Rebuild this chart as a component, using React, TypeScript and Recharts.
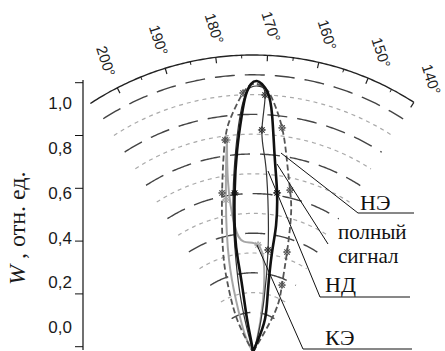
import React from "react";
import { ReferenceLine, Scatter, ScatterChart, XAxis, YAxis } from "recharts";

// polar frame: angle in degrees, W in relative units
const CENTER_DEG = 172.8; // angle that points straight up
const R_OUT = 1.1;
const RINGS = 15;
const ARC_FROM = 205.5;
const ARC_TO = 140;

const X_DOMAIN: [number, number] = [-0.62963, 0.71111];
const P_DOMAIN: [number, number] = [-0.02963, 1.3037];
const W_DOMAIN: [number, number] = [-0.05038, 1.31326];

const ANGLE_LABELS = [200, 190, 180, 170, 160, 150, 140];
const MINOR_TICKS = [195, 185, 175, 165, 155, 145];
const W_TICKS = [0, 0.2, 0.4, 0.6, 0.8, 1.0];

// полный сигнал
const FULL_DEG = [150, 150.2, 152.8, 159.2, 162.0, 162.5, 164.2, 166.3, 168.2, 169.5, 170.9, 172.0, 173.2, 174.4, 175.5, 177.3, 179.4, 181.5, 182.1, 182.1, 183.1, 182.3, 182.3];
const FULL_W = [0, 0.048, 0.13, 0.236, 0.377, 0.478, 0.596, 0.716, 0.881, 0.961, 0.993, 1.004, 0.993, 0.952, 0.879, 0.75, 0.593, 0.438, 0.345, 0.251, 0.124, 0.045, 0];
const FULL_MARKS = [6, 16];

// НЭ
const NE_DEG = [150, 144.0, 149.4, 154.0, 157.3, 159.9, 162.8, 165.4, 168.3, 170.2, 172.6, 175.0, 177.9, 180.3, 183.8, 189.2, 193.3, 198.7, 200];
const NE_W = [0, 0.169, 0.27, 0.391, 0.527, 0.615, 0.722, 0.837, 0.936, 0.979, 0.993, 0.96, 0.881, 0.792, 0.6, 0.394, 0.265, 0.136, 0];
const NE_MARKS = [2, 3, 5, 7, 11, 13, 14];

// НД
const ND_DEG = [160, 156.4, 160.9, 164.4, 167.2, 169.2, 170.5, 170.1, 171.7, 173.9, 175.9, 178.2, 180.8, 183.3, 185.8, 187.5, 187];
const ND_W = [0, 0.066, 0.197, 0.382, 0.566, 0.713, 0.823, 0.953, 0.985, 0.971, 0.879, 0.714, 0.531, 0.347, 0.198, 0.073, 0];
const ND_MARKS = [3, 6, 7];

// КЭ
const KE_DEG = [160, 154.4, 161.9, 165.6, 170.1, 177.5, 181.0, 181.1, 179.8, 182.9, 187.4, 190.9, 198.0, 195];
const KE_W = [0, 0.047, 0.196, 0.325, 0.397, 0.41, 0.47, 0.644, 0.791, 0.572, 0.352, 0.203, 0.07, 0];
const KE_MARKS = [4, 8, 9];

// leader lines (x, y in W units from the pole) and label anchors
const LEADERS = [
  [[0.1037, 0.737], [0.3889, 0.5148], [0.5963, 0.5148]],
  [[0.0889, 0.6963], [0.2778, 0.4]],
  [[0.0556, 0.6704], [0.2481, 0.2037], [0.5815, 0.2037]],
  [[0.0148, 0.3963], [0.1852, 0.0111], [0.5889, 0.0111]],
];
const NAMES = [["НЭ"], ["полный", "сигнал"], ["НД"], ["КЭ"]];
const NAME_POS = [[0.3963, 0.5259], [0.3148, 0.4185], [0.2667, 0.2222], [0.2667, 0.0259]];

const toXY = (deg: number, w: number) => {
  const a = ((CENTER_DEG - deg) * Math.PI) / 180;
  return { x: w * Math.sin(a), y: w * Math.cos(a) };
};

const SERIF = "'Liberation Serif', 'Times New Roman', serif";
const SANS = "'Liberation Sans', Arial, sans-serif";

function Star({ cx, cy, color }: { cx: number; cy: number; color: string }) {
  const s = 4;
  const d = s * 0.7;
  return (
    <g stroke={color} strokeWidth={1} fill="none">
      <circle cx={cx} cy={cy} r={2.4} />
      <line x1={cx - s} y1={cy} x2={cx + s} y2={cy} />
      <line x1={cx} y1={cy - s} x2={cx} y2={cy + s} />
      <line x1={cx - d} y1={cy - d} x2={cx + d} y2={cy + d} />
      <line x1={cx - d} y1={cy + d} x2={cx + d} y2={cy - d} />
    </g>
  );
}

const series = [
  { name: "КЭ", deg: KE_DEG, w: KE_W, marks: KE_MARKS, stroke: "#a6a6a6", width: 2, dash: undefined },
  { name: "НЭ", deg: NE_DEG, w: NE_W, marks: NE_MARKS, stroke: "#555555", width: 1.8, dash: "6 3" },
  { name: "НД", deg: ND_DEG, w: ND_W, marks: ND_MARKS, stroke: "#333333", width: 1.2, dash: undefined },
  { name: "полный сигнал", deg: FULL_DEG, w: FULL_W, marks: FULL_MARKS, stroke: "#111111", width: 2.6, dash: undefined },
].map((s) => ({
  ...s,
  points: s.deg.map((d, i) => ({ ...toXY(d, s.w[i]), mark: s.marks.includes(i) })),
}));

const ringDegs: number[] = [];
for (let d = ARC_FROM; d >= ARC_TO - 1e-9; d -= 0.5) ringDegs.push(d);
const rings = Array.from({ length: RINGS - 1 }, (_, i) => i + 2).map((k) => {
  const outer = k === RINGS;
  const degs = outer ? [206, ...ringDegs] : ringDegs;
  return { k, points: degs.map((d) => toXY(d, (k * R_OUT) / RINGS)) };
});

const angleLabelData = ANGLE_LABELS.map((a) => ({ ...toXY(a - 0.4, 1.207), label: `${a}°` }));
const nameData = NAMES.map((n, i) => ({ x: NAME_POS[i][0], y: NAME_POS[i][1], lines: n }));

const noDot = () => <g />;

function WTick({ y, payload }: any) {
  const v = payload.value as number;
  return (
    <text x={72} y={y - 18.7 + 39 * v} textAnchor="end" dominantBaseline="central" fontFamily={SANS} fontSize={17} fill="#1a1a1a">
      {v.toFixed(1).replace(".", ",")}
    </text>
  );
}

function AxisTitle() {
  return (
    <text x={25} y={285} transform="rotate(-90 25 285)" fontFamily={SERIF} fontSize={24} fill="#1a1a1a">
      <tspan fontStyle="italic">W</tspan>
      <tspan>{"\u00a0, отн. ед."}</tspan>
    </text>
  );
}

export default function App() {
  return (
    <div style={{ position: "absolute", left: 0, top: 0, width: 445, height: 351, overflow: "hidden", background: "#fff" }}>
      <ScatterChart width={445} height={360} margin={{ top: 0, right: 0, bottom: 0, left: 0 }}>
        <XAxis type="number" dataKey="x" domain={X_DOMAIN} allowDataOverflow hide height={0} />
        <YAxis
          yAxisId="w"
          type="number"
          domain={W_DOMAIN}
          allowDataOverflow
          ticks={W_TICKS}
          width={83}
          tickSize={8}
          axisLine={false}
          tickLine={{ stroke: "#111" }}
          tick={<WTick />}
          label={<AxisTitle />}
        />
        <YAxis yAxisId="p" type="number" dataKey="y" domain={P_DOMAIN} allowDataOverflow hide width={0} />
        <ReferenceLine
          yAxisId="w"
          segment={[{ x: X_DOMAIN[0], y: -0.0125 }, { x: X_DOMAIN[0], y: 1.0102 }]}
          stroke="#111"
          strokeWidth={1.2}
          ifOverflow="visible"
        />

        {rings.map((r) => (
          <Scatter
            key={`ring-${r.k}`}
            yAxisId="p"
            data={r.points}
            shape={noDot}
            line={
              r.k === RINGS
                ? { stroke: "#222", strokeWidth: 1.4 }
                : r.k % 2 === 0
                ? { stroke: "#444", strokeWidth: 1.4, strokeDasharray: "20 10" }
                : { stroke: "#aaa", strokeWidth: 1.2, strokeDasharray: "4 4" }
            }
            isAnimationActive={false}
          />
        ))}

        {ANGLE_LABELS.map((a) => {
          const p1 = toXY(a, R_OUT);
          const p2 = toXY(a, R_OUT - 0.022);
          return <ReferenceLine key={`t${a}`} yAxisId="p" segment={[p1, p2]} stroke="#222" strokeWidth={1.2} ifOverflow="visible" />;
        })}
        {MINOR_TICKS.map((a) => {
          const p1 = toXY(a, R_OUT);
          const p2 = toXY(a, R_OUT - 0.012);
          return <ReferenceLine key={`m${a}`} yAxisId="p" segment={[p1, p2]} stroke="#222" strokeWidth={1} ifOverflow="visible" />;
        })}

        {series.map((s) => (
          <Scatter
            key={s.name}
            name={s.name}
            yAxisId="p"
            data={s.points}
            line={{ stroke: s.stroke, strokeWidth: s.width, strokeDasharray: s.dash }}
            lineJointType="natural"
            shape={(p: any) => (p.payload.mark ? <Star cx={p.cx} cy={p.cy} color={s.stroke} /> : <g />)}
            isAnimationActive={false}
          />
        ))}

        {LEADERS.map((l, i) => (
          <Scatter
            key={`lead-${i}`}
            yAxisId="p"
            data={l.map(([x, y]) => ({ x, y }))}
            shape={noDot}
            line={{ stroke: "#111", strokeWidth: 1 }}
            isAnimationActive={false}
          />
        ))}

        <Scatter
          yAxisId="p"
          data={nameData}
          isAnimationActive={false}
          shape={(p: any) => {
            const two = p.payload.lines.length > 1;
            return (
              <text x={p.cx} y={p.cy} fontFamily={SERIF} fontSize={two ? 21 : 22} fill="#111">
                {p.payload.lines.map((t: string, j: number) => (
                  <tspan key={t} x={p.cx} dy={j === 0 ? 0 : 24}>
                    {t}
                  </tspan>
                ))}
              </text>
            );
          }}
        />
        <Scatter
          yAxisId="p"
          data={angleLabelData}
          isAnimationActive={false}
          shape={(p: any) => (
            <text
              x={p.cx}
              y={p.cy}
              transform={`rotate(72 ${p.cx} ${p.cy})`}
              textAnchor="middle"
              dominantBaseline="central"
              fontFamily={SANS}
              fontSize={15}
              fill="#222"
            >
              {p.payload.label}
            </text>
          )}
        />
      </ScatterChart>
    </div>
  );
}
